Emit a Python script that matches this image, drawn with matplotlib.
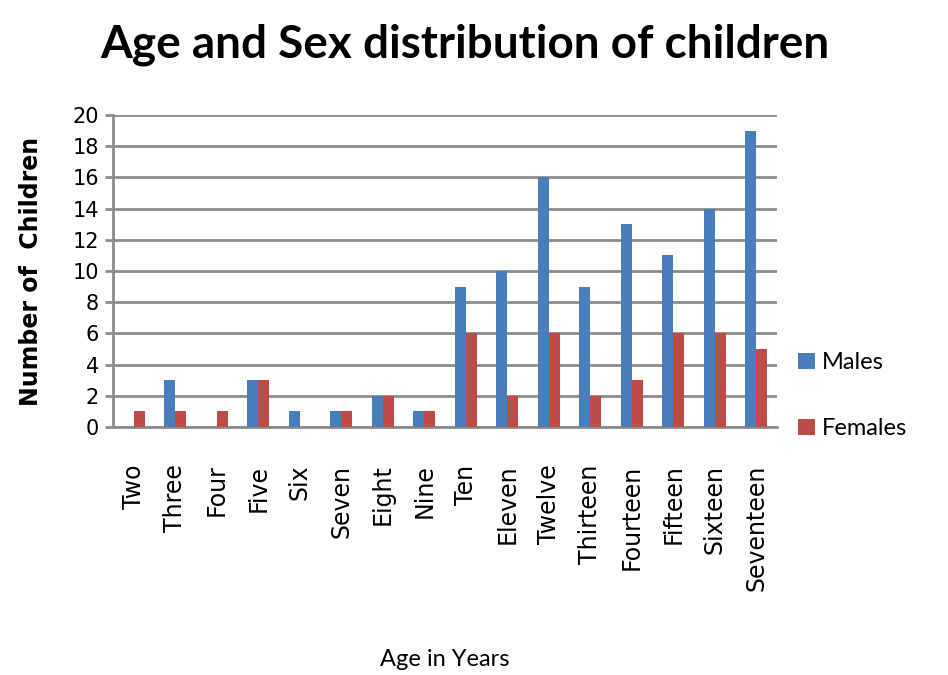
import numpy as np
import matplotlib.pyplot as plt

ages = ['Two', 'Three', 'Four', 'Five', 'Six', 'Seven', 'Eight', 'Nine', 'Ten',
        'Eleven', 'Twelve', 'Thirteen', 'Fourteen', 'Fifteen', 'Sixteen', 'Seventeen']
males = [0, 3, 0, 3, 1, 1, 2, 1, 9, 10, 16, 9, 13, 11, 14, 19]
females = [1, 1, 1, 3, 0, 1, 2, 1, 6, 2, 6, 2, 3, 6, 6, 5]

fig = plt.figure(figsize=(9.48, 6.75), dpi=100)
ax = fig.add_axes([113 / 948, 1 - 427 / 675, (777 - 113) / 948, (427 - 115) / 675])

x = np.arange(len(ages))
w = 0.27
ax.bar(x - w / 2, males, w, color='#4a7ebb', label='Males', zorder=3)
ax.bar(x + w / 2, females, w, color='#be4b48', label='Females', zorder=3)

ax.set_xlim(-0.5, len(ages) - 0.5)
ax.set_ylim(0, 20)
ax.set_yticks(range(0, 21, 2))
ax.yaxis.grid(True, color='#8c8c8c', linewidth=2)
ax.set_axisbelow(True)
for s in ['top', 'right']:
    ax.spines[s].set_visible(False)
ax.spines['left'].set_color('#8c8c8c')
ax.spines['left'].set_linewidth(2)
ax.spines['bottom'].set_color('#8c8c8c')
ax.spines['bottom'].set_linewidth(2)
ax.tick_params(axis='y', length=6, width=2, color='#8c8c8c', labelsize=15, pad=4)
ax.tick_params(axis='x', length=0, pad=27)
ax.set_xticks(x)
ax.set_xticklabels(ages, rotation=90, fontsize=17, va='top')

ax.set_ylabel('Number of  Children', fontsize=17, fontweight='bold')
ax.yaxis.set_label_coords(-0.105, 0.5)
ax.set_xlabel('Age in Years', fontsize=17, family='Lato')
ax.xaxis.set_label_coords(0.5, -0.71)
fig.suptitle('Age and Sex distribution of children', fontsize=33, fontweight='bold',
             x=0.49, y=0.965, family='Lato')

ax.legend(loc='center left', bbox_to_anchor=(1.0, 0.1), frameon=False,
          prop={'family': 'Lato', 'size': 17}, handlelength=0.7, handleheight=0.7,
          labelspacing=1.9, handletextpad=0.3)

plt.savefig('out.png')
